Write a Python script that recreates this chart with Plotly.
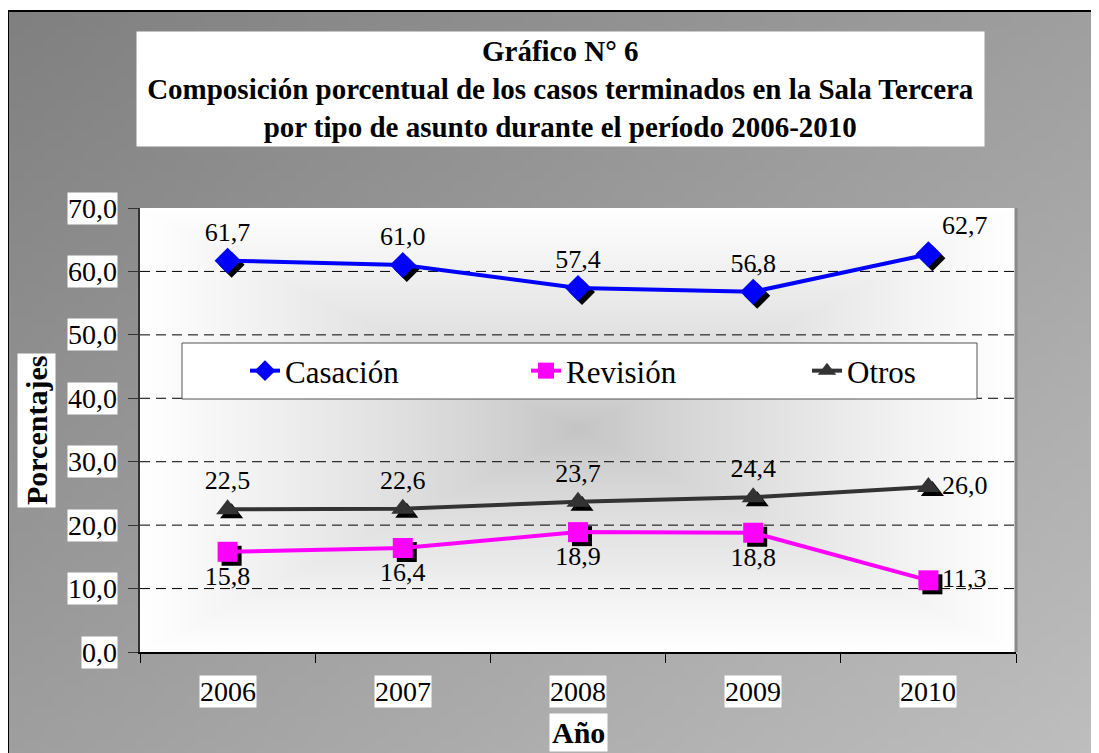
import zlib, struct, base64
import plotly.graph_objects as go

# ---------------- data ----------------
years = ['2006', '2007', '2008', '2009', '2010']
casacion = [61.7, 61.0, 57.4, 56.8, 62.7]
revision = [15.8, 16.4, 18.9, 18.8, 11.3]
otros = [22.5, 22.6, 23.7, 24.4, 26.0]
series_names = ['Casación', 'Revisión', 'Otros']
y_tick_vals = [0, 10, 20, 30, 40, 50, 60, 70]
y_tick_text = ['0,0', '10,0', '20,0', '30,0', '40,0', '50,0', '60,0', '70,0']
grid_vals = [10, 20, 30, 40, 50, 60]

title_text = ('Gráfico N° 6<br>Composición porcentual de los casos terminados en la Sala Tercera'
              '<br>por tipo de asunto durante el período 2006-2010')

# ---------------- geometry ----------------
OFF = 8  # page body margin
W, H = 1099, 753
PW, PH = 876, 444
ML, MT = 140 - OFF, 208 - OFF
MR, MB = W - ML - PW, H - MT - PH
FONT = 'Liberation Serif, Times New Roman, DejaVu Serif, serif'


def px_x(px):
    return (px - OFF - ML) / PW


def px_y(py):
    return (MT + PH - (py - OFF)) / PH


def fmt(v):
    return f'{v:.1f}'.replace('.', ',')


def png_gray(w, h, fn):
    raw = bytearray()
    for j in range(h):
        raw.append(0)
        for i in range(w):
            val = fn(i / (w - 1), j / (h - 1))
            raw.append(max(0, min(255, int(round(val)))))

    def chunk(t, d):
        c = struct.pack('>I', len(d)) + t + d
        return c + struct.pack('>I', zlib.crc32(t + d) & 0xffffffff)

    png = (b'\x89PNG\r\n\x1a\n'
           + chunk(b'IHDR', struct.pack('>IIBBBBB', w, h, 8, 0, 0, 0, 0))
           + chunk(b'IDAT', zlib.compress(bytes(raw)))
           + chunk(b'IEND', b''))
    return 'data:image/png;base64,' + base64.b64encode(png).decode()


outer_img = png_gray(110, 75, lambda u, v: 128 + 32 * u + 32 * v)


def plot_grad(u, v):
    t = max(abs(u - 0.5) / 0.5, abs(v - 0.5) / 0.5)
    return 196 + 59 * t ** 0.85


plot_img = png_gray(176, 90, plot_grad)

# shadow offset (px) converted through axis scales
SH_X, SH_Y = 4, 4
sx = SH_X * 5.0 / PW
sy = SH_Y * 70.0 / PH

colors = ['#0000FF', '#FF00FF', '#333333']
symbols = ['diamond', 'square', 'triangle-up']
values = [casacion, revision, otros]
textpos = [
    ['top center', 'top center', 'top center', 'top center', 'top right'],
    ['bottom center', 'bottom center', 'bottom center', 'bottom center', 'middle right'],
    ['top center', 'top center', 'top center', 'top center', 'middle right'],
]

fig = go.Figure()

# shadows (base axes, shifted range)
for vals, sym in zip(values, symbols):
    fig.add_trace(go.Scatter(
        x=years, y=vals, mode='markers', xaxis='x', yaxis='y',
        marker=dict(symbol=sym, size=20, color='black', line=dict(width=0)),
        showlegend=False, hoverinfo='skip'))

# main series
for name, vals, col, sym, tp in zip(series_names, values, colors, symbols, textpos):
    fig.add_trace(go.Scatter(
        x=years, y=vals, name=name, mode='lines+markers+text', xaxis='x2', yaxis='y2',
        line=dict(color=col, width=4),
        marker=dict(symbol=sym, size=20, color=col, line=dict(width=0)),
        text=[fmt(v) for v in vals], textposition=tp,
        textfont=dict(family=FONT, size=26, color='black')))

annotations = []
# title box
annotations.append(dict(
    text=title_text, xref='paper', yref='paper', x=px_x(560.5), y=px_y(89),
    xanchor='center', yanchor='middle', showarrow=False, width=845, height=112,
    bgcolor='white', font=dict(family=FONT, size=29, color='black', weight='bold')))
# y tick labels
for v, t in zip(y_tick_vals, y_tick_text):
    annotations.append(dict(
        text=t, xref='paper', yref='y2', x=0, y=v, xanchor='right', yanchor='middle',
        xshift=-22, showarrow=False, bgcolor='white', borderpad=0,
        font=dict(family=FONT, size=28, color='black')))
# x tick labels (category index positions)
for i, c in enumerate(years):
    annotations.append(dict(
        text=c, xref='x2', yref='paper', x=i, y=0, xanchor='center', yanchor='top',
        yshift=-23, showarrow=False, bgcolor='white', borderpad=0,
        font=dict(family=FONT, size=28, color='black')))
# axis titles
annotations.append(dict(
    text='Año', xref='paper', yref='paper', x=0.5, y=px_y(732), xanchor='center',
    yanchor='middle', showarrow=False, bgcolor='white', borderpad=2,
    font=dict(family=FONT, size=30, color='black', weight='bold')))
annotations.append(dict(
    text='Porcentajes', xref='paper', yref='paper', x=px_x(36), y=px_y(431),
    xanchor='center', yanchor='middle', textangle=-90, showarrow=False,
    bgcolor='white', borderpad=2,
    font=dict(family=FONT, size=30, color='black', weight='bold')))

shapes = []
# outer border (left & top)
shapes.append(dict(type='rect', xref='paper', yref='paper', x0=px_x(8), y0=px_y(H + 40),
                   x1=px_x(W + 40), y1=px_y(11), line=dict(color='black', width=2),
                   fillcolor='rgba(0,0,0,0)', layer='below'))
# gridlines
for g in grid_vals:
    shapes.append(dict(type='line', xref='paper', yref='y2', x0=0, x1=1, y0=g, y1=g,
                       line=dict(color='black', width=1, dash='10px,6px'), layer='below'))
# right border of plot area
shapes.append(dict(type='line', xref='paper', yref='paper', x0=1, x1=1, y0=0, y1=1,
                   line=dict(color='#8a8a8a', width=3), layer='above'))
# legend box
shapes.append(dict(type='rect', xref='paper', yref='paper', x0=px_x(182), x1=px_x(977),
                   y0=px_y(399), y1=px_y(343), line=dict(color='#555555', width=1),
                   fillcolor='white', layer='above'))

images = [
    dict(source=outer_img, xref='paper', yref='paper', x=px_x(8), y=px_y(11),
         sizex=(W + 20) / PW, sizey=(H + 20) / PH, sizing='stretch', layer='below',
         xanchor='left', yanchor='top'),
    dict(source=plot_img, xref='paper', yref='paper', x=0, y=1, sizex=1, sizey=1,
         sizing='stretch', layer='below', xanchor='left', yanchor='top'),
]

fig.update_layout(
    width=W, height=H, autosize=False,
    margin=dict(l=ML, r=MR, t=MT, b=MB, pad=0),
    paper_bgcolor='white', plot_bgcolor='rgba(0,0,0,0)',
    font=dict(family=FONT, color='black'),
    xaxis=dict(type='category', categoryarray=years, range=[-0.5 - sx, 4.5 - sx],
               visible=False, fixedrange=True),
    yaxis=dict(range=[0 + sy, 70 + sy], visible=False, fixedrange=True),
    xaxis2=dict(type='category', categoryarray=years, overlaying='x', anchor='y2',
                range=[-0.5, 4.5], showline=True, linecolor='black', linewidth=2,
                ticks='outside', tickson='boundaries', ticklen=9, tickcolor='black',
                tickwidth=1, showticklabels=False, showgrid=False, zeroline=False,
                fixedrange=True),
    yaxis2=dict(overlaying='y', anchor='x2', side='left', range=[0, 70],
                tickvals=y_tick_vals, showline=True, linecolor='#333333', linewidth=2,
                ticks='outside', ticklen=10, tickcolor='#333333', tickwidth=1,
                showticklabels=False, showgrid=False, zeroline=False, fixedrange=True),
    legend=dict(orientation='h', x=px_x(245), y=px_y(371), xanchor='left', yanchor='middle',
                bgcolor='rgba(0,0,0,0)', borderwidth=0, entrywidth=236,
                font=dict(family=FONT, size=31, color='black')),
    annotations=annotations, shapes=shapes, images=images,
    showlegend=True,
)

fig.write_html('out.html')
